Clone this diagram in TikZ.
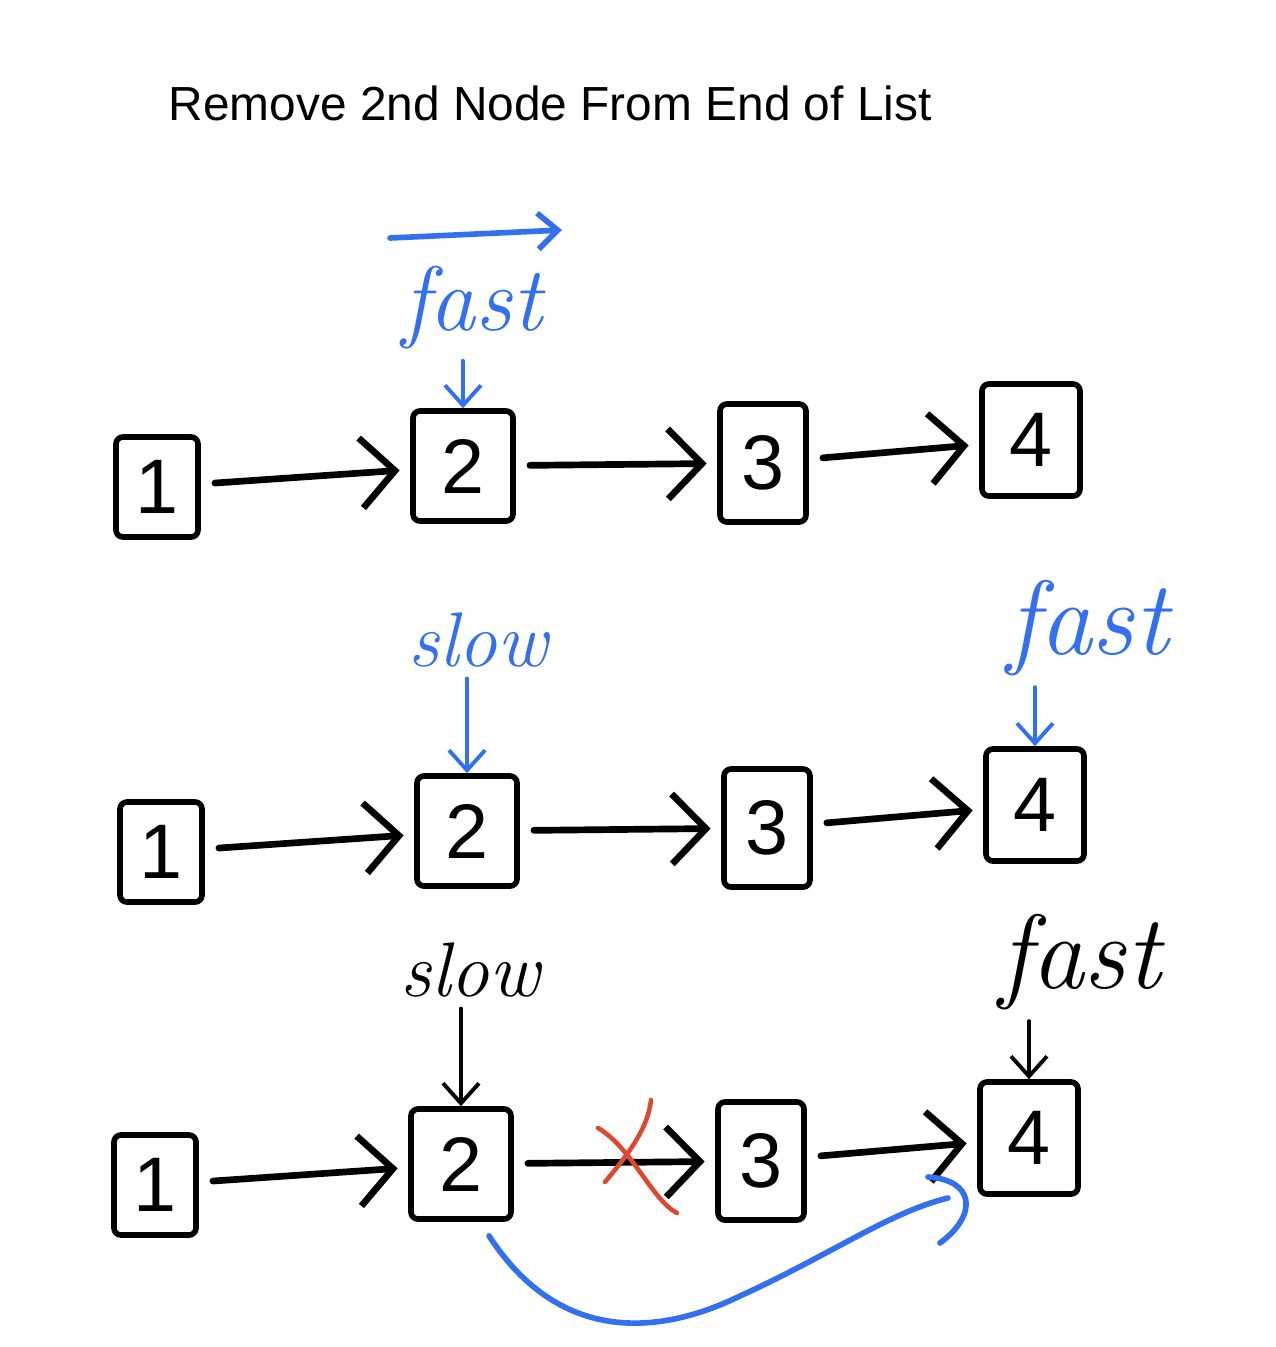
\documentclass[tikz,border=0pt]{standalone}
\usepackage{fontspec}
\newfontfamily\titlefont{Liberation Sans}
\usetikzlibrary{arrows.meta}

\tikzset{
  cell/.style={draw, line width=1.6pt, rounded corners=2pt, inner sep=0pt,
    font=\titlefont\fontsize{22}{22}\selectfont},
  link/.style={line width=1.9pt, line cap=round,
    -{Straight Barb[length=3.4mm,width=7mm]}, shorten <=4pt, shorten >=3pt},
  ptr/.style={line width=1.1pt, line cap=round,
    -{Straight Barb[length=2mm,width=3.6mm]}, shorten <=3pt},
  tag/.style={font=\itshape\fontsize{26}{26}\selectfont, inner sep=0pt},
  skip/.style={line width=1.6pt, line cap=round},
  cut/.style={line width=1.3pt, line cap=round},
}

\begin{document}
\begin{tikzpicture}[x=0.01cm, y=-0.01cm]
    % Define colors
    \definecolor{ptrblue}{RGB}{51,112,240}   % Blue
    \definecolor{cutred}{RGB}{222,72,48}     % Red

    \useasboundingbox (0,0) rectangle (1276,1347);

    % Title
    \node[font=\titlefont\fontsize{13.6}{13.6}\selectfont, anchor=west, inner sep=0pt] (title) at (168,103) {Remove 2nd Node From End of List};

    % Draw the three lists
    \foreach \row/\dx/\dy in {1/0/0, 2/4/365, 3/-2/698}
        {
        \foreach \i/\x/\y/\w/\h in {1/157/487/0.82/1.0, 2/463/466/1.0/1.1, 3/763/463/0.86/1.18, 4/1031/440/0.98/1.12}
            {
            \node[cell, minimum width=\w cm, minimum height=\h cm] (b\row\i) at (\x+\dx,\y+\dy) {\i};
        }
        \foreach \a/\b in {1/2, 2/3, 3/4}
            {
            \draw[link] (b\row\a) -- (b\row\b);
        }
    }

    % First list: fast moves ahead
    \coordinate (mv0) at (390,238);
    \coordinate (mv1) at (562,230);
    \draw[ptr, ptrblue, line width=1.6pt, shorten <=0pt] (mv0) -- (mv1);
    \node[tag, ptrblue] (fast1) at (472,308) {fast};
    \draw[ptr, ptrblue] (fast1.south -| b12.north) -- (b12.north);

    % Second list
    \node[tag, ptrblue, font=\itshape\fontsize{22}{22}\selectfont] (slow2) at (478,640) {slow};
    \draw[ptr, ptrblue] (slow2.south -| b22.north) -- (b22.north);
    \node[tag, ptrblue, font=\itshape\fontsize{30}{30}\selectfont] (fast2) at (1088,628) {fast};
    \draw[ptr, ptrblue] (fast2.south -| b24.north) -- (b24.north);

    % Third list
    \node[tag, font=\itshape\fontsize{22}{22}\selectfont] (slow3) at (470,970) {slow};
    \draw[ptr] (slow3.south -| b32.north) -- (b32.north);
    \node[tag, font=\itshape\fontsize{30}{30}\selectfont] (fast3) at (1080,962) {fast};
    \draw[ptr] (fast3.south -| b34.north) -- (b34.north);

    % Cut the old link
    \draw[cut, cutred] (598,1128) .. controls (632,1148) and (652,1200) .. (677,1213);
    \draw[cut, cutred] (651,1100) .. controls (648,1130) and (625,1158) .. (605,1182);

    % New link from 2 to 4
    \coordinate (land) at (948,1198);
    \draw[skip, ptrblue] ([xshift=0.28cm,yshift=-0.14cm]b32.south) .. controls (560,1345) and (660,1335) .. (740,1296) .. controls (830,1255) and (890,1212) .. (land);
    \draw[skip, ptrblue] (928,1177) .. controls (975,1180) and (978,1215) .. (940,1243);
\end{tikzpicture}
\end{document}
